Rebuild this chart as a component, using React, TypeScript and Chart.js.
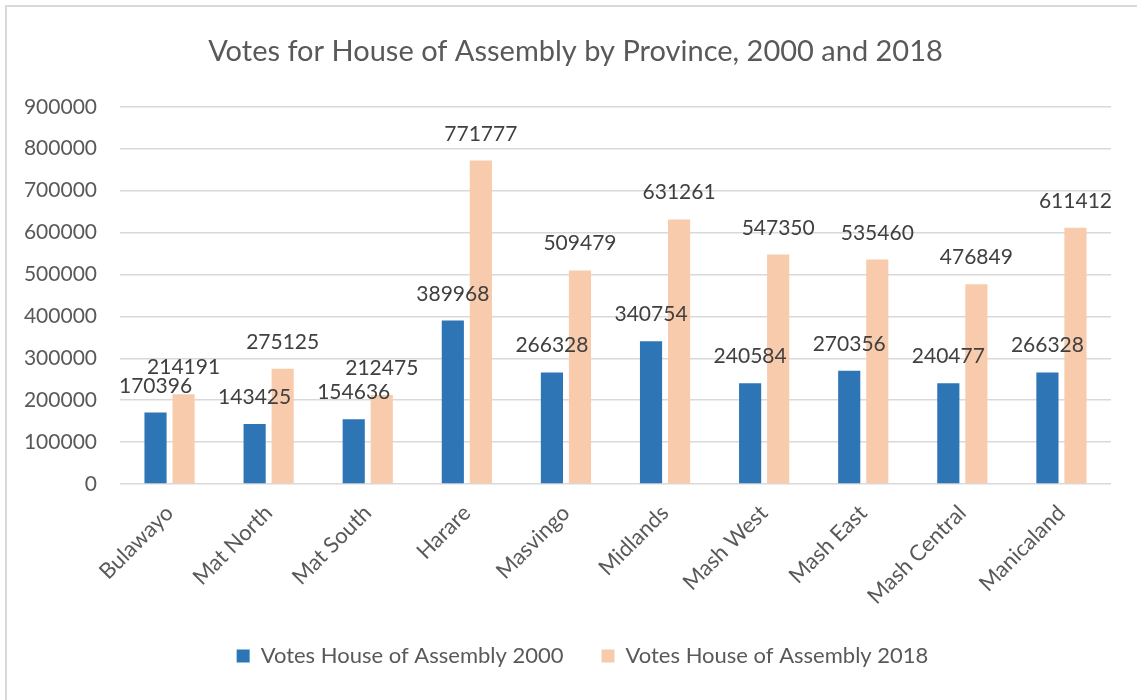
import React, { useEffect, useRef } from "react";
import { Chart, registerables } from "chart.js";

Chart.register(...registerables);

const categories = [
  "Bulawayo",
  "Mat North",
  "Mat South",
  "Harare",
  "Masvingo",
  "Midlands",
  "Mash West",
  "Mash East",
  "Mash Central",
  "Manicaland",
];
const votes2000 = [170396, 143425, 154636, 389968, 266328, 340754, 240584, 270356, 240477, 266328];
const votes2018 = [214191, 275125, 212475, 771777, 509479, 631261, 547350, 535460, 476849, 611412];
const seriesNames = ["Votes House of Assembly 2000", "Votes House of Assembly 2018"];
const titleText = "Votes for House of Assembly by Province, 2000 and 2018";
const yMax = 900000;
const yStep = 100000;

const FONT = "Lato";
const TEXT = "#595959";
const LABEL = "#404040";
const GRID = "#D9D9D9";

const dataLabels = {
  id: "dataLabels",
  afterDatasetsDraw(chart: any) {
    const ctx = chart.ctx;
    ctx.save();
    ctx.font = `21px ${FONT}`;
    ctx.fillStyle = LABEL;
    ctx.textAlign = "center";
    ctx.textBaseline = "alphabetic";
    chart.data.datasets.forEach((ds: any, di: number) => {
      const meta = chart.getDatasetMeta(di);
      meta.data.forEach((el: any, i: number) => {
        ctx.fillText(String(ds.data[i]), el.x, el.y - 20);
      });
    });
    ctx.restore();
  },
};

// nudge title and legend horizontally to match the reference centring
const boxShift = {
  id: "boxShift",
  afterLayout(chart: any) {
    if (chart.titleBlock) {
      chart.titleBlock.left += 10;
      chart.titleBlock.right += 10;
    }
    if (chart.legend) {
      chart.legend.left += 17;
      chart.legend.right += 17;
    }
  },
};

export default function App() {
  const ref = useRef<HTMLCanvasElement | null>(null);
  useEffect(() => {
    if (!ref.current) return;
    const chart = new Chart(ref.current, {
      type: "bar",
      data: {
        labels: categories,
        datasets: [
          {
            label: seriesNames[0],
            data: votes2000,
            backgroundColor: "#2E75B6",
            categoryPercentage: 0.566,
            barPercentage: 0.79,
          },
          {
            label: seriesNames[1],
            data: votes2018,
            backgroundColor: "#F8CBAD",
            categoryPercentage: 0.566,
            barPercentage: 0.79,
          },
        ],
      },
      plugins: [dataLabels, boxShift],
      options: {
        animation: false,
        responsive: false,
        maintainAspectRatio: false,
        layout: { padding: { left: 20, right: 26, top: 0, bottom: 23 } },
        plugins: {
          title: {
            display: true,
            text: titleText,
            color: TEXT,
            font: { family: FONT, size: 29, weight: "normal" },
            padding: { top: 34, bottom: 38 },
          },
          legend: {
            position: "bottom",
            labels: {
              color: TEXT,
              font: { family: FONT, size: 22 },
              boxWidth: 13,
              boxHeight: 13,
              padding: 38,
            },
          },
          tooltip: { enabled: false },
        },
        scales: {
          x: {
            grid: { display: false },
            border: { display: false },
            ticks: {
              color: TEXT,
              font: { family: FONT, size: 22 },
              maxRotation: 45,
              minRotation: 45,
              padding: 8,
            },
            afterFit: (s: any) => {
              s.height = 123;
            },
          },
          y: {
            min: 0,
            max: yMax,
            grid: { color: GRID, lineWidth: 1.5, drawTicks: false },
            border: { display: false },
            ticks: {
              stepSize: yStep,
              color: TEXT,
              font: { family: FONT, size: 21 },
              padding: 23,
              callback: (v: any) => String(v),
            },
            afterFit: (s: any) => {
              s.width = 100;
            },
          },
        },
      },
    });
    return () => chart.destroy();
  }, []);

  return (
    <div style={{ position: "fixed", left: 0, top: 0, width: 1137, height: 700, background: "#fff", overflow: "hidden" }}>
      <div
        style={{
          position: "absolute",
          left: 5,
          top: 5,
          width: 1200,
          height: 800,
          border: `2px solid ${GRID}`,
        }}
      />
      <canvas ref={ref} width={1137} height={700} style={{ position: "absolute", left: 0, top: 0 }} />
    </div>
  );
}
